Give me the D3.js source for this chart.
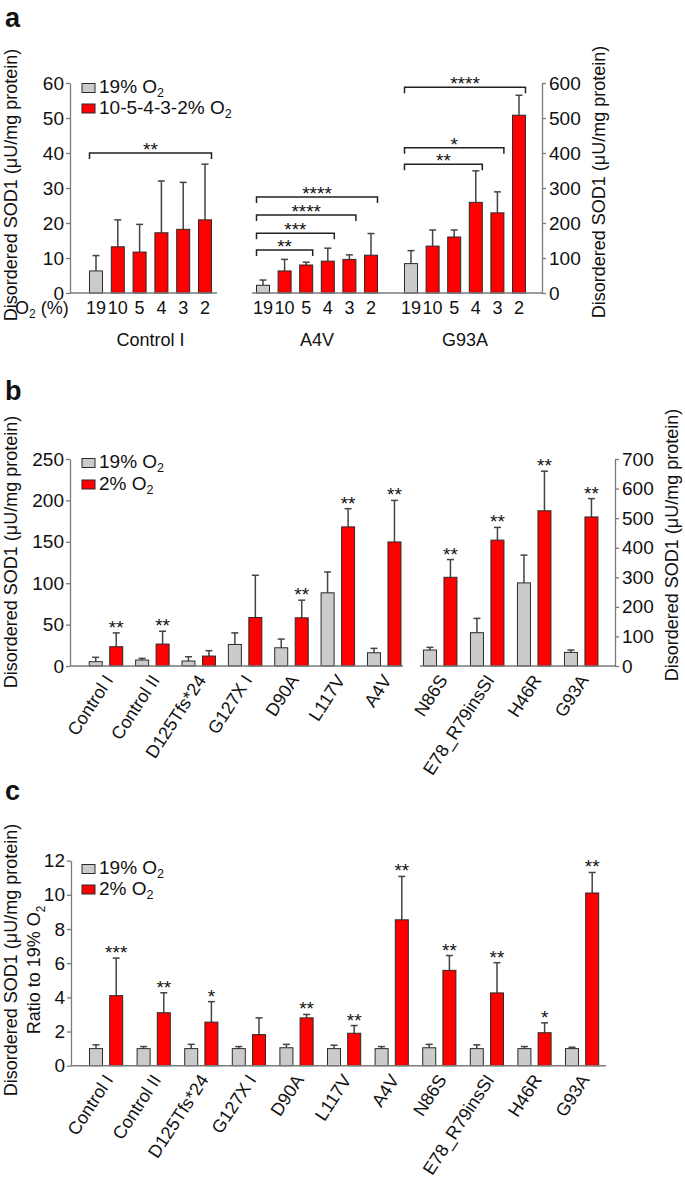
<!DOCTYPE html>
<html><head><meta charset="utf-8">
<script src="https://cdn.jsdelivr.net/npm/d3@7"></script>
<style>
body{margin:0;background:#fff;}
svg text{font-family:"Liberation Sans",Arial,Helvetica,sans-serif;fill:#111;}
</style></head><body><svg id="c" width="685" height="1180"></svg>
<script>
// ---------------- Panel a data ----------------
const aO2 = ["19","10","5","4","3","2"];
const aGroups = ["Control I","A4V","G93A"];
const aControlMean = [6.3,13.2,11.7,17.2,18.2,20.9];
const aControlSD   = [4.4,7.7,7.9,14.8,13.4,15.9];
const aA4VMean = [2.2,6.3,8.0,9.1,9.6,10.8];
const aA4VSD   = [1.5,3.3,0.8,3.7,1.3,6.2];
const aG93AMean = [84,134,160,259,229,508];
const aG93ASD   = [37,46,20,90,60,57];
const aLeftTicks = [0,10,20,30,40,50,60];
const aRightTicks = [0,100,200,300,400,500,600];
const aBrackets = [
  {g:0, from:0, to:5, level:40,   label:"**"},
  {g:1, from:0, to:5, level:27.4, label:"****"},
  {g:1, from:0, to:4, level:22.3, label:"****"},
  {g:1, from:0, to:3, level:17.1, label:"***"},
  {g:1, from:0, to:2, level:12.3, label:"**"},
  {g:2, from:0, to:5, level:588,  label:"****"},
  {g:2, from:0, to:4, level:415,  label:"*"},
  {g:2, from:0, to:3, level:368,  label:"**"}
];
// ---------------- Panel b data ----------------
const bLeftCats = ["Control I","Control II","D125Tfs*24","G127X I","D90A","L117V","A4V"];
const bLeft19   = [5.2,7.2,6,26,22,88.4,16];
const bLeft19SD = [5.3,2.0,5.2,14,10.5,25.2,5.3];
const bLeft2    = [23.3,26.5,12,58.6,58.2,168,149.8];
const bLeft2SD  = [16.7,15.5,6.5,51,21.3,22,50.2];
const bLeftSig  = ["**","**","","","**","**","**"];
const bRightCats = ["N86S","E78_R79insSI","H46R","G93A"];
const bRight19   = [54,112.6,281,46];
const bRight19SD = [9,48.4,94,8];
const bRight2    = [300,425.7,524.8,504];
const bRight2SD  = [60,43,134,62];
const bRightSig  = ["**","**","**","**"];
const bLeftTicks = [0,50,100,150,200,250];
const bRightTicks = [0,100,200,300,400,500,600,700];
// ---------------- Panel c data ----------------
const cCats = ["Control I","Control II","D125Tfs*24","G127X I","D90A","L117V","A4V","N86S","E78_R79insSI","H46R","G93A"];
const c19   = [1,1,1,1,1.05,1,1,1.05,1,1,1];
const c19SD = [0.22,0.12,0.25,0.12,0.2,0.2,0.12,0.2,0.22,0.12,0.08];
const c2    = [4.1,3.1,2.55,1.82,2.8,1.9,8.54,5.58,4.26,1.93,10.11];
const c2SD  = [2.2,1.17,1.2,0.98,0.2,0.45,2.54,0.87,1.77,0.58,1.2];
const cSig  = ["***","**","*","","**","**","**","**","**","*","**"];
const cTicks = [0,2,4,6,8,10,12];
const conditions = ["19","2"];

// ---------------- styles ----------------
const RED = "#ff0000", GRAY = "#cbcbcb", BAR_STROKE = "#2a2a2a", ERR = "#444", AXIS = "#7a7a7a";
const FS_TICK = 19, FS_TITLE = 18, FS_LEG = 19, FS_SIG = 19, FS_ROT = 18, FS_O2 = 18, BARW = 13;
const TITLE = "Disordered SOD1 (\u03bcU/mg protein)";

const svg = d3.select("#c");

function subText(g, x, y, main, sub, opts) {
  opts = opts || {};
  const fs = opts.fs || FS_TITLE;
  const t = g.append("text").attr("x", x).attr("y", y)
    .attr("font-size", fs).attr("text-anchor", opts.anchor || "start");
  t.append("tspan").text(main);
  t.append("tspan").attr("font-size", fs * 0.66).attr("dy", 4).text(sub);
  return t;
}
function panelLabel(txt, x, y) {
  svg.append("text").attr("x", x).attr("y", y).attr("font-size", 27)
    .attr("font-weight", "bold").text(txt);
}
function styleAxis(g) {
  g.select(".domain").attr("stroke", AXIS).attr("stroke-width", 1.3);
  g.selectAll(".tick line").attr("stroke", AXIS).attr("stroke-width", 1.3);
  g.selectAll(".tick text").attr("font-size", FS_TICK).attr("fill", "#111")
    .attr("font-family", "Liberation Sans, Arial, sans-serif");
}
function vTitle(x, cy, main, sub) {
  const t = svg.append("text").attr("font-size", FS_TITLE).attr("text-anchor", "middle")
    .attr("transform", `translate(${x},${cy}) rotate(-90)`);
  t.append("tspan").text(main);
  if (sub) t.append("tspan").attr("font-size", FS_TITLE*0.66).attr("dy", 5).text(sub);
}
function hline(x0, x1, y) {
  svg.append("line").attr("x1", x0).attr("x2", x1).attr("y1", y).attr("y2", y)
    .attr("stroke", AXIS).attr("stroke-width", 1.5);
}
function bar(g, cx, y, v, sd, fill) {
  const y0 = y(0), yt = y(v), ye = y(v + sd);
  g.append("line").attr("x1", cx).attr("x2", cx).attr("y1", yt).attr("y2", ye)
    .attr("stroke", ERR).attr("stroke-width", 1.5);
  g.append("line").attr("x1", cx - 3.5).attr("x2", cx + 3.5).attr("y1", ye).attr("y2", ye)
    .attr("stroke", ERR).attr("stroke-width", 1.5);
  g.append("rect").attr("x", cx - BARW/2).attr("y", yt).attr("width", BARW)
    .attr("height", y0 - yt).attr("fill", fill).attr("stroke", BAR_STROKE).attr("stroke-width", 1);
  return ye;
}
function sig(g, cx, ye, label) {
  if (!label) return;
  g.append("text").attr("x", cx).attr("y", ye + 1).attr("text-anchor", "middle")
    .attr("font-size", FS_SIG).text(label);
}
function legend(x, y, labels, gap) {
  const g = svg.append("g");
  labels.forEach((l, i) => {
    const yy = y + i * gap;
    g.append("rect").attr("x", x).attr("y", yy - 9.5).attr("width", 13).attr("height", 9)
      .attr("fill", i === 0 ? GRAY : RED).attr("stroke", BAR_STROKE).attr("stroke-width", 1);
    subText(g, x + 17, yy, l, "2", {fs: FS_LEG});
  });
}
function rotLabels(g, cats, x, axisY, dx, dy) {
  g.selectAll(null).data(cats).enter().append("text")
    .attr("text-anchor", "end").attr("font-size", FS_ROT)
    .attr("transform", d => `translate(${x(d) + x.bandwidth()/2 + dx},${axisY + dy}) rotate(-57)`)
    .text(d => d);
}

// ================= Panel a =================
(function(){
  const yL = d3.scaleLinear().domain([0,60]).range([293,83]);
  const yR = d3.scaleLinear().domain([0,600]).range([293,83]);
  const xs = [
    d3.scalePoint().domain(aO2).range([96,205]),
    d3.scalePoint().domain(aO2).range([263,371]),
    d3.scalePoint().domain(aO2).range([411,519])
  ];
  const means = [aControlMean, aA4VMean, aG93AMean];
  const sds = [aControlSD, aA4VSD, aG93ASD];
  const ys = [yL, yL, yR];
  const g = svg.append("g");
  panelLabel("a", 5, 27);
  hline(70, 217, 293);
  hline(252, 542, 293);
  const ax = svg.append("g").attr("transform","translate(70,0)")
    .call(d3.axisLeft(yL).tickValues(aLeftTicks).tickSize(4).tickSizeOuter(0).tickPadding(2));
  styleAxis(ax);
  const ax2 = svg.append("g").attr("transform","translate(542,0)")
    .call(d3.axisRight(yR).tickValues(aRightTicks).tickSize(4).tickSizeOuter(0).tickPadding(3));
  styleAxis(ax2);
  vTitle(17, 185, TITLE);
  vTitle(605, 182, TITLE);
  means.forEach((m, gi) => {
    m.forEach((v, i) => bar(g, xs[gi](aO2[i]), ys[gi], v, sds[gi][i], i === 0 ? GRAY : RED));
    aO2.forEach(d => g.append("text").attr("x", xs[gi](d)).attr("y", 314)
      .attr("text-anchor","middle").attr("font-size", FS_O2).text(d));
    const c = (xs[gi](aO2[0]) + xs[gi](aO2[5])) / 2;
    g.append("text").attr("x", c).attr("y", 346).attr("text-anchor","middle")
      .attr("font-size", FS_TITLE).text(aGroups[gi]);
  });
  const o2 = g.append("text").attr("x", 15).attr("y", 314).attr("font-size", FS_O2);
  o2.append("tspan").text("O");
  o2.append("tspan").attr("font-size", 12).attr("dy", 4).text("2");
  o2.append("tspan").attr("dy", -4).text(" (%)");
  aBrackets.forEach(b => {
    const x = xs[b.g], y = ys[b.g];
    const x0 = x(aO2[b.from]) - BARW/2, x1 = x(aO2[b.to]) + BARW/2, yy = y(b.level);
    g.append("path").attr("d", `M${x0},${yy+6}V${yy}H${x1}V${yy+6}`)
      .attr("fill","none").attr("stroke","#222").attr("stroke-width",1.5);
    g.append("text").attr("x", (x0+x1)/2).attr("y", yy + 3).attr("text-anchor","middle")
      .attr("font-size", FS_SIG).text(b.label);
  });
  legend(82, 93, ["19% O", "10-5-4-3-2% O"], 20.5);
})();

// ================= Panel b =================
(function(){
  const yL = d3.scaleLinear().domain([0,250]).range([666,459]);
  const yR = d3.scaleLinear().domain([0,700]).range([666,459]);
  const xL = d3.scaleBand().domain(bLeftCats).range([82.8,407.4]);
  const xR = d3.scaleBand().domain(bRightCats).range([416.7,604.7]);
  const xc = d3.scalePoint().domain(conditions).range([-10.25,10.25]);
  const g = svg.append("g");
  panelLabel("b", 5, 400);
  hline(70, 403, 666);
  hline(420, 615, 666);
  const ax = svg.append("g").attr("transform","translate(70,0)")
    .call(d3.axisLeft(yL).tickValues(bLeftTicks).tickSize(4).tickSizeOuter(0).tickPadding(2));
  styleAxis(ax);
  const ax2 = svg.append("g").attr("transform","translate(615,0)")
    .call(d3.axisRight(yR).tickValues(bRightTicks).tickSize(4).tickSizeOuter(0).tickPadding(3));
  styleAxis(ax2);
  vTitle(17, 552, TITLE);
  vTitle(678, 545, TITLE);
  bLeftCats.forEach((c, i) => {
    const cx = xL(c) + xL.bandwidth()/2;
    bar(g, cx + xc("19"), yL, bLeft19[i], bLeft19SD[i], GRAY);
    const ye = bar(g, cx + xc("2"), yL, bLeft2[i], bLeft2SD[i], RED);
    sig(g, cx + xc("2"), ye, bLeftSig[i]);
  });
  bRightCats.forEach((c, i) => {
    const cx = xR(c) + xR.bandwidth()/2;
    bar(g, cx + xc("19"), yR, bRight19[i], bRight19SD[i], GRAY);
    const ye = bar(g, cx + xc("2"), yR, bRight2[i], bRight2SD[i], RED);
    sig(g, cx + xc("2"), ye, bRightSig[i]);
  });
  rotLabels(g, bLeftCats, xL, 666, 8, 14);
  rotLabels(g, bRightCats, xR, 666, 8, 14);
  legend(82, 468, ["19% O", "2% O"], 21.5);
})();

// ================= Panel c =================
(function(){
  const y = d3.scaleLinear().domain([0,12]).range([1065.7,860.7]);
  const x = d3.scaleBand().domain(cCats).range([82.3,605.9]);
  const xc = d3.scalePoint().domain(conditions).range([-10.1,10.1]);
  const g = svg.append("g");
  panelLabel("c", 5, 800);
  hline(71, 606, 1065.7);
  const ax = svg.append("g").attr("transform","translate(71,0)")
    .call(d3.axisLeft(y).tickValues(cTicks).tickSize(4).tickSizeOuter(0).tickPadding(2));
  styleAxis(ax);
  vTitle(17, 960, TITLE);
  vTitle(40, 970, "Ratio to 19% O", "2");
  cCats.forEach((c, i) => {
    const cx = x(c) + x.bandwidth()/2;
    bar(g, cx + xc("19"), y, c19[i], c19SD[i], GRAY);
    const ye = bar(g, cx + xc("2"), y, c2[i], c2SD[i], RED);
    sig(g, cx + xc("2"), ye, cSig[i]);
  });
  rotLabels(g, cCats, x, 1065.7, 8, 14);
  legend(82, 874, ["19% O", "2% O"], 20.5);
})();
</script></body></html>
